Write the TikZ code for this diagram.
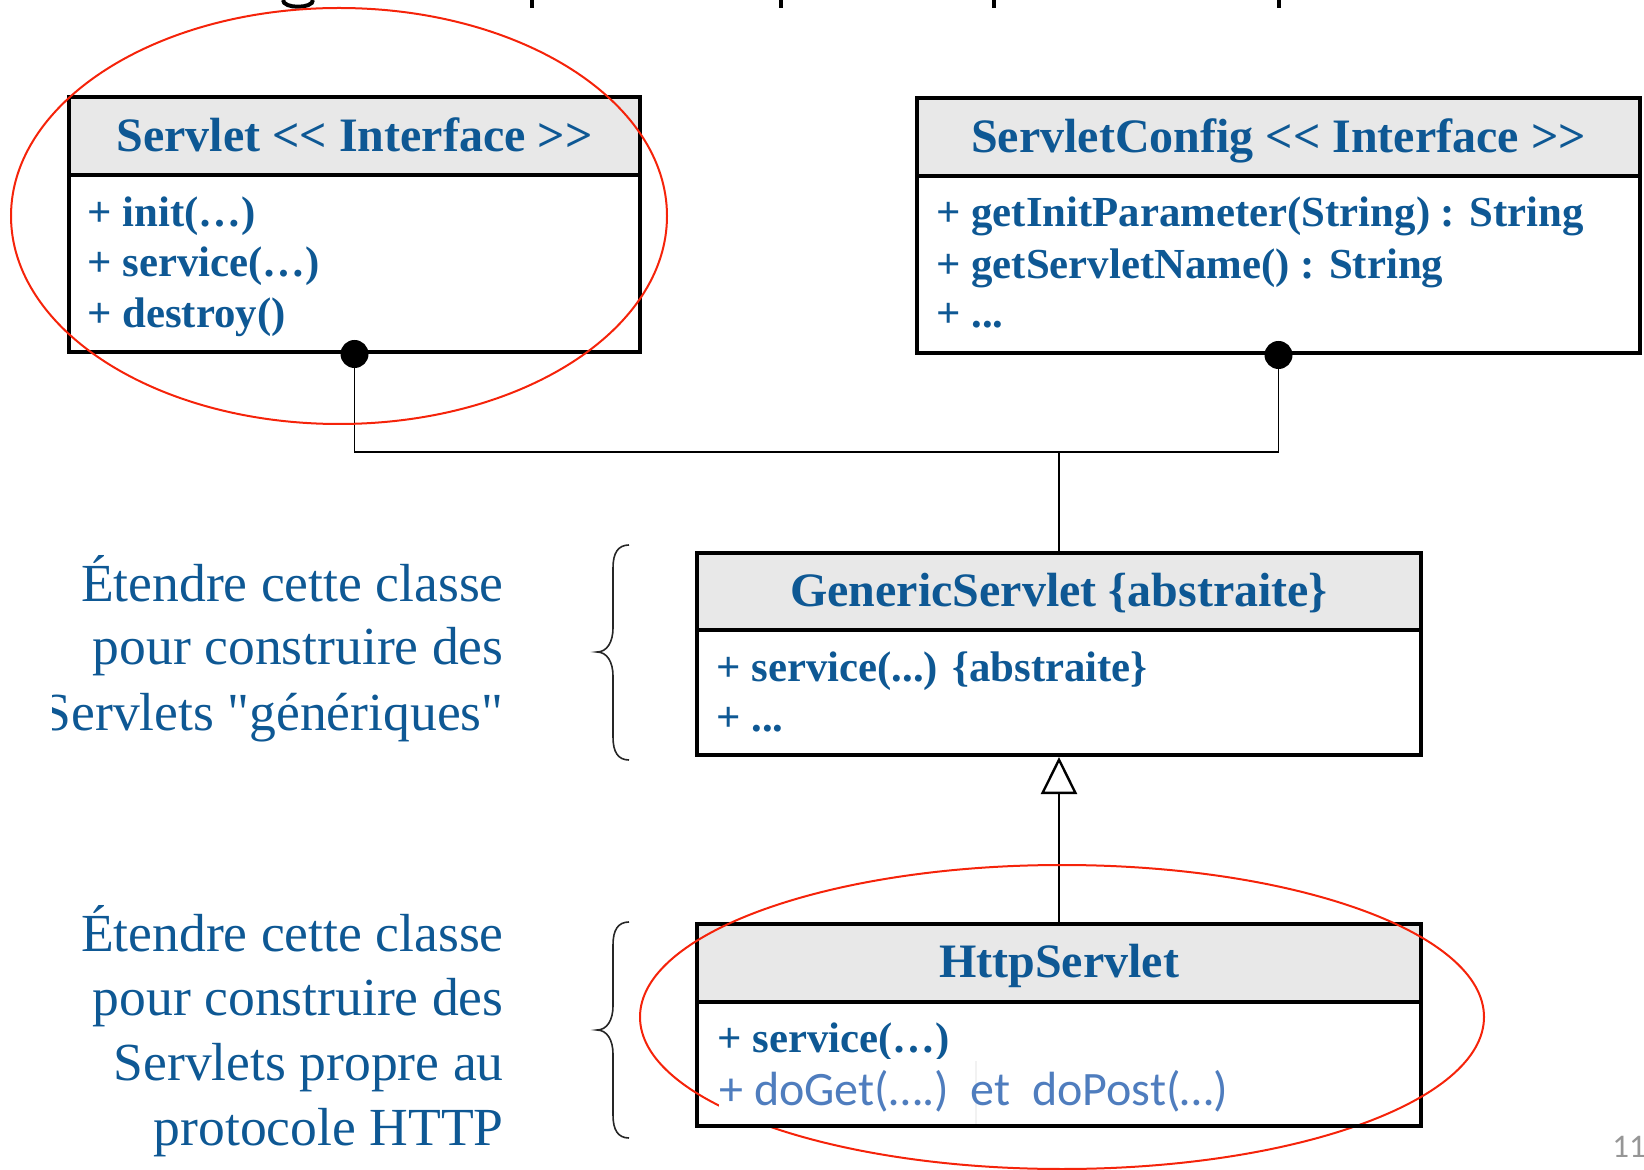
\documentclass[tikz,border=0pt]{standalone}
\usepackage{fontspec}
\setmainfont{Liberation Serif}
\newfontfamily\tnr{Liberation Serif}
\newfontfamily\calfont{Carlito}
\usetikzlibrary{arrows.meta}
\definecolor{umlblue}{RGB}{14,88,148}
\definecolor{hdrgrey}{RGB}{232,232,232}
\definecolor{lightblue}{RGB}{79,125,190}
\definecolor{ringred}{RGB}{245,35,10}
\definecolor{pagegrey}{RGB}{150,150,150}
\tikzset{
  hdr/.style={fill=hdrgrey, draw=none, inner sep=0pt, outer sep=0pt, anchor=north west},
  classbox/.style={draw=black, line width=2pt, inner sep=0pt, anchor=north west},
  divider/.style={line width=2pt},
  ctitle/.style={text=umlblue, font=\tnr\bfseries\fontsize{24}{28}\selectfont, anchor=base, inner sep=0pt},
  meth/.style={text=umlblue, font=\tnr\bfseries\fontsize{21.4}{25}\selectfont, anchor=base west, inner sep=0pt},
  note/.style={text=umlblue, font=\tnr\fontsize{26.8}{32}\selectfont, anchor=base east, inner sep=0pt},
  conn/.style={line width=0.9pt, draw=black},
  dotmark/.style={fill=black},
  bracestyle/.style={line width=0.8pt, draw=black!85},
  redring/.style={draw=ringred, line width=1pt},
  frag/.style={line width=2pt, draw=black}
}
\begin{document}
\begin{tikzpicture}[x=0.5pt, y=-0.5pt]
\useasboundingbox (0,0) rectangle (1644,1170);

% cut-off title fragments at the top edge
\draw[frag] (283,0) .. controls (283,9) and (313,9) .. (313,0);
\draw[frag] (532,0) -- (532,8);
\draw[frag] (781,0) -- (781,8);
\draw[frag] (994,0) -- (994,8);
\draw[frag] (1279,0) -- (1279,8);

% ---- Servlet
\node[hdr, minimum width=287.5pt, minimum height=40pt] (servletHead) at (67,95) {};
\node[classbox, minimum width=285.5pt, minimum height=127.5pt] (servlet) at (67,95) {};
\draw[divider] (servletHead.south west) -- (servletHead.south east);
\node[ctitle] (servletTitle) at (354.5,152) {Servlet << Interface >>};
\node[meth] (servletM1) at (87,227) {+ init(…)};
\node[meth] (servletM2) at (87,277) {+ service(…)};
\node[meth] (servletM3) at (87,328) {+ destroy()};

% ---- ServletConfig
\node[hdr, minimum width=363.5pt, minimum height=40pt] (configHead) at (915,96) {};
\node[classbox, minimum width=361.5pt, minimum height=127.5pt] (config) at (915,96) {};
\draw[divider] (configHead.south west) -- (configHead.south east);
\node[ctitle] (configTitle) at (1278.5,153) {ServletConfig << Interface >>};
\node[meth] (configM1) at (936,227) {+ getInitParameter(String) : String};
\node[meth] (configM2) at (936,279) {+ getServletName() : String};
\node[meth] (configM3) at (936,328) {+ ...};

% ---- GenericServlet
\node[hdr, minimum width=364pt, minimum height=39.5pt] (genericHead) at (695,551) {};
\node[classbox, minimum width=362pt, minimum height=101pt] (generic) at (695,551) {};
\draw[divider] (genericHead.south west) -- (genericHead.south east);
\node[ctitle] (genericTitle) at (1059,607) {GenericServlet \{abstraite\}};
\node[meth] (genericM1) at (716,682) {+ service(...) \{abstraite\}};
\node[meth] (genericM2) at (716,732) {+ ...};

% ---- HttpServlet
\node[hdr, minimum width=364pt, minimum height=40pt] (httpHead) at (695,922) {};
\node[classbox, minimum width=362pt, minimum height=101pt] (http) at (695,922) {};
\draw[divider] (httpHead.south west) -- (httpHead.south east);
\node[ctitle] (httpTitle) at (1059,977) {HttpServlet};
\node[meth] (httpM1) at (717,1052) {+ service(…)};

% ---- connectors
\coordinate (join) at (1059,452);
\draw[conn] (servlet.south) |- (join) -| (config.south);
\draw[conn] (join) -- (generic.north);
\fill[dotmark] (servlet.south) circle[radius=7pt];
\fill[dotmark] (config.south) circle[radius=7pt];
\draw[conn, -{Triangle[open, length=18.5pt, width=18pt, line width=1.2pt]}] (http.north) -- (generic.south);

% ---- braces
\draw[bracestyle] (629,545) .. controls (618,545) and (613,553) .. (613,568) -- (613,628)
  .. controls (613,642) and (607,652) .. (597,652) .. controls (607,652) and (613,662) .. (613,676)
  -- (613,737) .. controls (613,752) and (618,760) .. (629,760);
\draw[bracestyle] (629,922) .. controls (618,922) and (613,930) .. (613,945) -- (613,1006)
  .. controls (613,1020) and (607,1030) .. (597,1030) .. controls (607,1030) and (613,1040) .. (613,1054)
  -- (613,1115) .. controls (613,1130) and (618,1138) .. (629,1138);

% ---- notes
\node[note] (noteA1) at (504,602) {Étendre cette classe};
\node[note] (noteA2) at (504,665) {pour construire des};
\begin{scope}
\clip (52,0) rectangle (1644,1170);
\node[note] (noteA3) at (504,730) {Servlets "génériques"};
\end{scope}
\node[note] (noteB1) at (504,951) {Étendre cette classe};
\node[note] (noteB2) at (504,1015) {pour construire des};
\node[note] (noteB3) at (504,1080) {Servlets propre au};
\node[note] (noteB4) at (504,1145) {protocole HTTP};

% ---- red highlight ellipses
\draw[redring] (339,216) ellipse [x radius=164pt, y radius=104pt];
\draw[redring] (1062,1017) ellipse [x radius=211pt, y radius=76pt];

% ---- pasted doGet line
\fill[black!5] (721,1061) rectangle (977,1127);
\fill[white] (719,1059) rectangle (975,1125);
\node[text=lightblue, font=\calfont\fontsize{24}{28}\selectfont, anchor=base west, inner sep=0pt] (httpM2) at (719,1105) {+ doGet(….)\ \ et\ \ doPost(…)};
\draw[line width=2pt] (695,1126) -- (1423,1126);

% ---- page number
\node[text=pagegrey, font=\calfont\fontsize{16.5}{20}\selectfont, anchor=base west, inner sep=0pt] (pageno) at (1612,1157) {11};
\end{tikzpicture}
\end{document}
